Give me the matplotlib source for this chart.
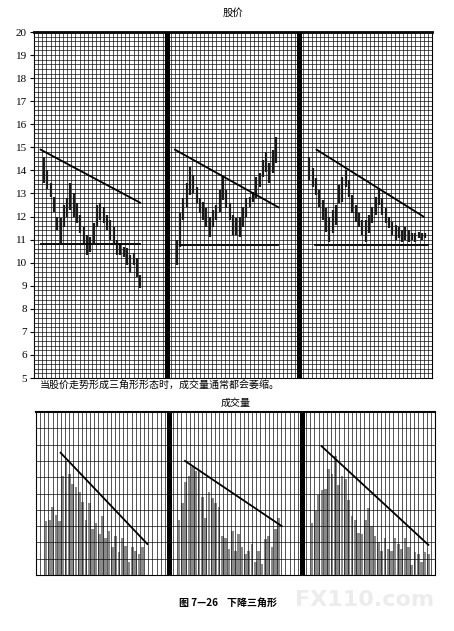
import matplotlib.pyplot as plt
import numpy as np

plt.rcParams['font.family'] = ['Noto Sans CJK SC', 'DejaVu Sans']

# price bars: high / low per day, three panels
high_1 = [14.6, 14.0, 13.44, 12.86, 11.99, 11.92, 12.50, 12.79, 13.44, 13.0,
          12.57, 12.07, 11.56, 11.2, 11.13, 11.71, 12.50, 12.57, 12.43, 12.07,
          11.85, 11.56, 10.98, 10.84, 10.69, 10.62, 10.33, 10.41, 10.19, 9.47]
low_1 = [13.45, 13.2, 12.86, 12.21, 11.42, 10.84, 11.56, 11.99, 12.28, 11.99,
         11.71, 11.27, 10.84, 10.33, 10.48, 10.84, 11.56, 11.85, 11.71, 11.42,
         10.98, 10.84, 10.33, 10.33, 10.26, 9.90, 9.54, 9.90, 9.39, 8.89]

high_2 = [10.98, 12.14, 12.79, 13.44, 14.16, 13.80, 13.29, 12.79, 12.64, 12.36,
          11.99, 12.28, 12.50, 13.15, 13.73, 13.15, 12.57, 12.07, 11.92, 11.99,
          12.43, 12.79, 12.86, 13.08, 13.73, 13.87, 14.45, 14.81, 14.30, 14.88, 15.46]
low_2 = [9.90, 10.69, 11.85, 12.43, 12.93, 13.01, 12.57, 12.14, 11.85, 11.56,
         11.13, 11.56, 11.85, 12.21, 12.72, 12.36, 11.85, 11.20, 11.20, 11.13,
         11.56, 11.99, 12.43, 12.64, 12.79, 13.29, 13.73, 13.94, 13.44, 13.87, 14.30]

high_3 = [14.60, 14.09, 13.66, 13.15, 12.72, 12.36, 11.99, 12.28, 12.50, 13.37,
          13.73, 14.02, 13.59, 12.93, 12.50, 12.14, 11.85, 11.85, 12.07, 12.43,
          12.86, 13.22, 12.79, 12.36, 11.99, 11.78, 11.63, 11.56, 11.42, 11.56,
          11.42, 11.27, 11.27, 11.34, 11.27, 11.27]
low_3 = [13.59, 13.29, 12.93, 12.43, 11.85, 11.34, 10.91, 11.27, 11.63, 12.57,
         12.64, 13.29, 12.86, 12.14, 11.78, 11.56, 11.20, 10.91, 11.27, 11.71,
         12.07, 12.50, 12.07, 11.71, 11.49, 11.20, 10.98, 11.05, 10.91, 10.98,
         10.91, 10.98, 10.91, 11.05, 10.98, 11.05]

# volume per day
vol_1 = [3.3, 3.4, 4.2, 3.7, 3.3, 6.1, 7.0, 6.2, 5.6, 5.4, 5.1, 4.5, 3.4, 4.4, 2.8,
         3.2, 2.5, 3.6, 2.3, 2.7, 1.7, 2.4, 1.4, 2.3, 1.8, 0.8, 1.7, 1.5, 1.3, 1.7]
vol_2 = [3.4, 4.4, 5.7, 6.1, 6.6, 6.4, 6.3, 4.8, 3.5, 5.1, 4.7, 4.4, 4.2, 2.4, 2.3,
         1.6, 2.7, 1.5, 2.5, 1.7, 1.3, 1.5, 1.9, 0.8, 1.5, 0.7, 2.2, 2.4, 1.7, 2.8, 3.5]
vol_3 = [3.2, 3.9, 4.9, 5.2, 5.3, 6.5, 6.2, 7.3, 5.5, 6.1, 5.9, 4.6, 3.6, 3.4, 2.6,
         2.5, 3.4, 4.1, 3.0, 2.4, 2.0, 1.5, 2.3, 1.6, 1.5, 2.3, 1.9, 1.6, 2.3, 1.7,
         0.6, 1.4, 1.3, 0.8, 1.4, 1.3]

# trend lines: (day start, day end, value start, value end)
price_res = [(2, 32, 14.9, 12.6), (42.5, 73.7, 14.9, 12.4), (85.2, 117.4, 14.9, 12.0)]
price_sup = [(2, 32, 10.8), (44, 73.6, 10.75), (84.7, 118.9, 10.75)]
vol_res = [(7.4, 33.5, 7.5, 1.9), (44.8, 73.9, 7.0, 3.0), (85.9, 118, 7.9, 1.85)]

panel_len = 40
first_day = 3
price_ticks = list(range(5, 21))


def draw_grid(ax, y0, y1, ystep):
    for x in np.arange(0, 3 * panel_len + 0.01, panel_len / 32):
        ax.axvline(x, color='#111111', lw=0.5, zorder=3)
    for y in np.arange(y0, y1 + 0.001, ystep):
        ax.axhline(y, color='#111111', lw=0.5, zorder=3)
    for x in [panel_len, 2 * panel_len]:
        ax.axvline(x, color='black', lw=3.6, zorder=5)
    ax.set_xlim(0, 3 * panel_len)
    ax.set_ylim(y0, y1)
    ax.set_xticks([])


fig = plt.figure(figsize=(4.54, 6.31), dpi=100)

# ---- price chart
ax1 = fig.add_axes([34 / 454, 1 - 378 / 631, 398 / 454, 346 / 631])
draw_grid(ax1, 5, 20, 0.2)
ax1.set_yticks(price_ticks)
ax1.set_yticklabels([str(t) for t in price_ticks], family='Liberation Serif', fontsize=8)
ax1.tick_params(axis='y', length=3, width=0.8, pad=2)
ax1.spines['top'].set_linewidth(2)

for i, (hi, lo) in enumerate([(high_1, low_1), (high_2, low_2), (high_3, low_3)]):
    days = i * panel_len + first_day + np.arange(len(hi))
    ax1.vlines(days, lo, hi, color='#1a1a1a', lw=1.6, zorder=6)

for d0, d1, v0, v1 in price_res:
    ax1.plot([d0, d1], [v0, v1], color='black', lw=1.3, zorder=7)
for d0, d1, v in price_sup:
    ax1.plot([d0, d1], [v, v], color='black', lw=1.3, zorder=7)

# ---- volume chart
ax2 = fig.add_axes([36 / 454, 1 - 575 / 631, 399 / 454, 163 / 631])
draw_grid(ax2, 0, 10, 1)
ax2.set_yticks([])
ax2.spines['top'].set_linewidth(1.5)

for i, vol in enumerate([vol_1, vol_2, vol_3]):
    days = i * panel_len + first_day + np.arange(len(vol))
    ax2.bar(days, vol, width=0.8, color='#8a8a8a', zorder=2)

for d0, d1, v0, v1 in vol_res:
    ax2.plot([d0, d1], [v0, v1], color='black', lw=1.3, zorder=7)

# ---- texts
fig.text(233 / 454, 1 - 13 / 631, '股价', ha='center', va='center', fontsize=7.5)
fig.text(40 / 454, 1 - 385 / 631, '当股价走势形成三角形形态时，成交量通常都会萎缩。',
         ha='left', va='center', fontsize=7.2)
fig.text(236 / 454, 1 - 403 / 631, '成交量', ha='center', va='center', fontsize=7.2)
fig.text(228 / 454, 1 - 603 / 631, '图 7—26    下降三角形', ha='center', va='center',
         fontsize=7.2, fontweight='bold')
fig.text(365 / 454, 1 - 600 / 631, 'FX110.com', ha='center', va='center',
         fontsize=16, color='#ececec', fontweight='bold', family='DejaVu Sans', zorder=0)

fig.savefig('out.png', dpi=100)
